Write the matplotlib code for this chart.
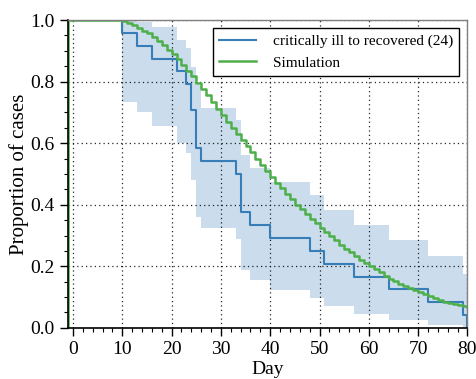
"""
Kaplan-Meier style curve (critically ill -> recovered) against the simulated
distribution, with the confidence band shaded behind the observed steps.
"""

import numpy as np
import matplotlib.pyplot as plt
from matplotlib.ticker import MultipleLocator

# ---------------------------------------------------------------------------
# Data
# ---------------------------------------------------------------------------
N_CASES = 24

# observed steps: day of the event and number still "not recovered" after it
km_day = [0, 10, 13, 16, 21, 23, 24, 25, 26, 33, 34, 36, 40, 48, 51, 57, 64, 72, 79, 80]
km_left = [24, 23, 22, 21, 20, 19, 17, 14, 13, 12, 9, 8, 7, 6, 5, 4, 3, 2, 1, 0]

# confidence band around the observed curve (same days as above)
km_upper = [1.0, 1.0, 0.995, 0.978, 0.935, 0.908, 0.848, 0.79, 0.713, 0.675,
            0.56, 0.52, 0.475, 0.432, 0.383, 0.334, 0.286, 0.232, 0.175, 0.175]
km_lower = [1.0, 0.735, 0.70, 0.657, 0.60, 0.567, 0.48, 0.361, 0.324, 0.288,
            0.188, 0.156, 0.123, 0.096, 0.071, 0.045, 0.026, 0.01, 0.002, 0.0]

# simulated curve, one value per day from day 10 to day 80
sim_start = 10
sim_frac = [0.996, 0.990, 0.983, 0.975, 0.966, 0.957, 0.945, 0.932, 0.918, 0.904,
            0.889, 0.872, 0.854, 0.836, 0.817, 0.797, 0.776, 0.755, 0.733, 0.711,
            0.690, 0.670, 0.650, 0.630, 0.610, 0.590, 0.570, 0.550, 0.530, 0.510,
            0.490, 0.472, 0.454, 0.436, 0.418, 0.400, 0.385, 0.370, 0.355, 0.340,
            0.326, 0.312, 0.298, 0.284, 0.270, 0.257, 0.245, 0.234, 0.222, 0.211,
            0.200, 0.190, 0.180, 0.170, 0.160, 0.151, 0.144, 0.137, 0.130, 0.124,
            0.118, 0.111, 0.104, 0.097, 0.091, 0.085, 0.081, 0.078, 0.075, 0.072,
            0.069]

BLUE = "#377eb8"
GREEN = "#4daf4a"

plt.rcParams["font.family"] = ["Liberation Serif", "DejaVu Serif"]
plt.rcParams["mathtext.fontset"] = "stix"


def main():
    fig = plt.figure(figsize=(4.76, 3.79), dpi=100)
    ax = fig.add_axes([0.143, 0.135, 0.839, 0.812])

    days = np.array(km_day, dtype=float)
    frac = np.array(km_left, dtype=float) / N_CASES

    ax.fill_between(days, km_lower, km_upper, step="post",
                    color=BLUE, alpha=0.26, linewidth=0)
    ax.step(days, frac, where="post", color=BLUE, lw=1.5,
            label=f"critically ill to recovered ({N_CASES})")

    # simulated curve: starts from 0 left of the axis, 1 until day 10
    sim_days = np.r_[-1, -1, np.arange(sim_start, sim_start + len(sim_frac))]
    sim_vals = np.r_[0.0, 1.0, sim_frac]
    ax.step(sim_days, sim_vals, where="post", color=GREEN, lw=1.8,
            label="Simulation")

    ax.set_xlim(-1, 80)
    ax.set_ylim(0, 1)
    ax.xaxis.set_major_locator(MultipleLocator(10))
    ax.xaxis.set_minor_locator(MultipleLocator(2))
    ax.yaxis.set_major_locator(MultipleLocator(0.2))
    ax.yaxis.set_minor_locator(MultipleLocator(0.05))
    ax.yaxis.set_major_formatter(plt.FormatStrFormatter("%.1f"))

    ax.grid(True, which="major", color="k", linestyle=(0, (1, 2.5)), lw=0.9, alpha=0.85)
    ax.tick_params(which="major", direction="out", length=6, width=1, labelsize=14)
    ax.tick_params(which="minor", direction="out", length=3, width=0.8)

    for side in ("left", "bottom"):
        ax.spines[side].set_linewidth(1.2)
        ax.spines[side].set_color("k")
    for side in ("top", "right"):
        ax.spines[side].set_linewidth(1.0)
        ax.spines[side].set_color("0.5")

    ax.set_xlabel("Day", fontsize=14, labelpad=2)
    ax.set_ylabel("Proportion of cases", fontsize=15, labelpad=1)

    leg = ax.legend(loc="upper right", fontsize=11, fancybox=False,
                    framealpha=1, edgecolor="k", borderaxespad=0.55,
                    handlelength=2.4, handletextpad=1.1)
    leg.get_frame().set_linewidth(1.0)

    fig.savefig("out.png", dpi=100)


if __name__ == "__main__":
    main()
